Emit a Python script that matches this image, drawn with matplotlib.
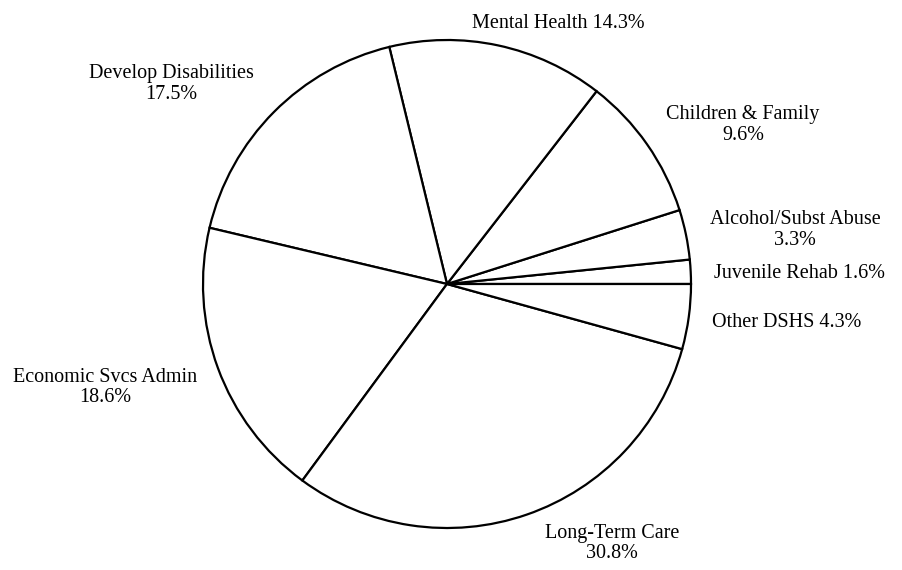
import numpy as np
import matplotlib.pyplot as plt

plt.rcParams['font.family'] = ['Liberation Serif', 'DejaVu Serif']

# slices, counterclockwise from 3 o'clock
names = ['Juvenile Rehab', 'Alcohol/Subst Abuse', 'Children & Family', 'Mental Health',
         'Develop Disabilities', 'Economic Svcs Admin', 'Long-Term Care', 'Other DSHS']
shares = [1.6, 3.3, 9.6, 14.3, 17.5, 18.6, 30.8, 4.3]
two_line = [False, True, True, False, True, True, True, False]

# label positions (radius units)
label_xy = [(1.443, 0.045), (1.426, 0.222), (1.213, 0.652), (0.455, 1.066),
            (-1.131, 0.820), (-1.400, -0.424), (0.676, -1.063), (1.393, -0.157)]

fig = plt.figure(figsize=(9.03, 5.70), dpi=100)
ax = fig.add_axes([0.0, 0.0, 1.0, 1.0])

ax.pie(shares, startangle=0, counterclock=True,
       colors=['white'] * len(shares),
       wedgeprops=dict(edgecolor='black', linewidth=1.6))

for name, s, two, (x, y) in zip(names, shares, two_line, label_xy):
    sep = '\n' if two else ' '
    ax.text(x, y, f'{name}{sep}{s:.1f}%', ha='center', va='center',
            fontsize=14.5, linespacing=1.1)

# pie centre at (447, 284) px, radius ~244 px
cx, cy, r = 447, 284, 244
ax.set_xlim(-cx / r, (903 - cx) / r)
ax.set_ylim(-(570 - cy) / r, cy / r)
ax.set_aspect('equal')
ax.axis('off')

fig.savefig('out.png', dpi=100)
